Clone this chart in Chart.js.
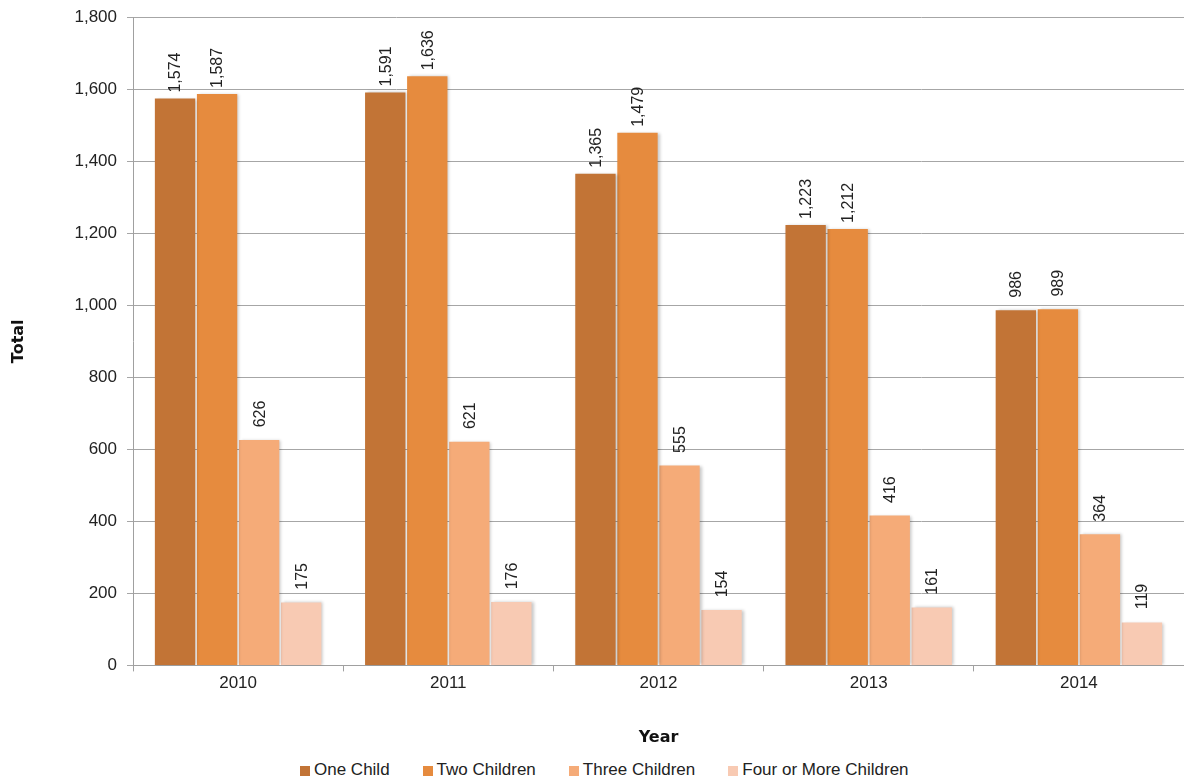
<!DOCTYPE html>
<html>
<head>
<meta charset="utf-8">
<script src="https://cdn.jsdelivr.net/npm/chart.js@4/dist/chart.umd.min.js"></script>
<style>
html,body{margin:0;padding:0;background:#fff;}
#wrap{width:1184px;height:781px;position:relative;overflow:hidden;}
#c{position:absolute;left:0;top:-3px;}
#legend{position:absolute;left:300px;top:759px;height:22px;display:flex;align-items:center;
  font-family:'Liberation Sans', Arial, Helvetica, sans-serif;font-size:17px;color:#222;white-space:nowrap;}
#legend .item{display:flex;align-items:center;margin-right:33px;}
#legend .item:last-child{margin-right:0;}
#legend .box{width:10px;height:10px;margin-right:4px;margin-top:2px;}
</style>
</head>
<body>
<div id="wrap">
  <canvas id="c" width="1184" height="753"></canvas>
  <div id="legend"></div>
</div>
<script>
const categories = ["2010","2011","2012","2013","2014"];
const oneChild = [1574,1591,1365,1223,986];
const twoChildren = [1587,1636,1479,1212,989];
const threeChildren = [626,621,555,416,364];
const fourOrMore = [175,176,154,161,119];
const seriesNames = ["One Child","Two Children","Three Children","Four or More Children"];
const seriesColors = ["#C27436","#E68B3E","#F5AB78","#F8CAB3"];
const yTicks = [0,200,400,600,800,1000,1200,1400,1600,1800];

const FONT = "'Liberation Sans', Arial, Helvetica, sans-serif";
const TITLE_FONT = "'DejaVu Sans', 'Liberation Sans', Arial, sans-serif";
const fmt = v => v.toLocaleString('en-US');

const shadowPlugin = {
  id:'shadow',
  beforeDatasetsDraw(chart){
    const ctx = chart.ctx;
    ctx.save();
    ctx.shadowColor = 'rgba(0,0,0,0.22)';
    ctx.shadowBlur = 3;
    ctx.shadowOffsetX = 2;
    ctx.shadowOffsetY = 0;
  },
  afterDatasetsDraw(chart){
    chart.ctx.restore();
  }
};

const labelPlugin = {
  id:'barLabels',
  afterDatasetsDraw(chart){
    const ctx = chart.ctx;
    ctx.save();
    ctx.shadowColor = 'transparent';
    ctx.font = "16px " + FONT;
    ctx.fillStyle = '#222';
    ctx.textAlign = 'center';
    ctx.textBaseline = 'middle';
    chart.data.datasets.forEach((ds, di) => {
      const meta = chart.getDatasetMeta(di);
      meta.data.forEach((bar, i) => {
        ctx.save();
        ctx.translate(bar.x + 1, bar.y - 26);
        ctx.rotate(-Math.PI/2);
        ctx.fillText(fmt(ds.data[i]), 0, 0);
        ctx.restore();
      });
    });
    ctx.restore();
  }
};

const datasets = [oneChild, twoChildren, threeChildren, fourOrMore].map((d, i) => ({
  label: seriesNames[i],
  data: d,
  backgroundColor: seriesColors[i],
  borderWidth: 0,
  categoryPercentage: 0.8,
  barPercentage: 0.96
}));

new Chart(document.getElementById('c'), {
  type: 'bar',
  data: { labels: categories, datasets },
  plugins: [shadowPlugin, labelPlugin],
  options: {
    responsive: false,
    animation: false,
    devicePixelRatio: 1,
    layout: { padding: { top: 3, right: 0, left: 0, bottom: 0 } },
    plugins: {
      tooltip: { enabled: false },
      legend: { display: false }
    },
    scales: {
      x: {
        grid: { display: true, drawOnChartArea: false, drawTicks: true, tickLength: 6, color: '#A0A0A0', offset: true },
        border: { display: true, color: '#A0A0A0', width: 1 },
        ticks: { font: { size: 17, family: FONT }, color: '#222', padding: 2 },
        title: { display: true, text: 'Year', font: { size: 16, weight: 'bold', family: TITLE_FONT }, color: '#111', padding: { top: 32, bottom: 3 } }
      },
      y: {
        min: 0, max: 1800,
        afterBuildTicks(scale){ scale.ticks = yTicks.map(v => ({ value: v })); },
        afterFit(scale){ scale.width = 133; },
        grid: { color: '#A6A6A6', tickLength: 6, drawTicks: true },
        border: { display: true, color: '#A0A0A0' },
        ticks: { font: { size: 17, family: FONT }, color: '#222', padding: 10, callback: v => fmt(v) },
        title: { display: true, text: 'Total', font: { size: 16, weight: 'bold', family: TITLE_FONT }, color: '#111', padding: { top: 9, bottom: 0 } }
      }
    }
  }
});

const legendEl = document.getElementById('legend');
seriesNames.forEach((name, i) => {
  const item = document.createElement('div');
  item.className = 'item';
  const box = document.createElement('span');
  box.className = 'box';
  box.style.background = seriesColors[i];
  const txt = document.createElement('span');
  txt.textContent = name;
  item.appendChild(box);
  item.appendChild(txt);
  legendEl.appendChild(item);
});
</script>
</body>
</html>
